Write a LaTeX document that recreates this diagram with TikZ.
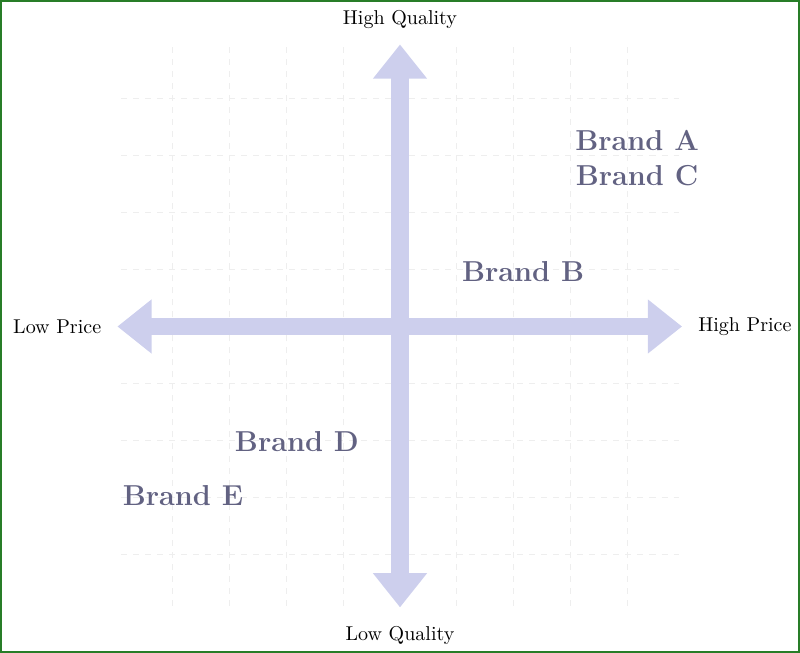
\documentclass[tikz,border=0pt]{standalone}
\usepackage{amssymb}
\usepackage{amsmath}
\usepackage{xcolor}
\usepackage{tikz}
\usetikzlibrary{arrows.meta}
\usetikzlibrary{positioning}
\definecolor{axisblue}{RGB}{205,207,237}
\definecolor{brandgray}{RGB}{98,98,130}
\definecolor{gridgray}{RGB}{238,238,238}
\definecolor{framegreen}{RGB}{40,125,40}
\tikzstyle{axisarrow} = [line width=0.3cm, draw=axisblue, -{Triangle[width=0.91cm, length=0.6cm]}]
\tikzstyle{axisLabel} = [text=black, font=\normalsize]
\tikzstyle{brandNode} = [
                text=brandgray,
                font=\Large\bfseries,
                inner sep=0.05cm
            ]
\tikzstyle{gridline} = [draw=gridgray, dashed, line width=0.5pt]

\begin{document}
\begin{tikzpicture}[node distance=0.16 cm]
    \useasboundingbox (-7.02,-5.73) rectangle (7.02,5.73);
    \draw [framegreen, line width=1pt] (-7.0,-5.71) rectangle (7.0,5.71);
    \draw [gridline] (-4.9,-4.9) grid (4.9,4.9);
    \coordinate (o) at (0,0);
    \coordinate (hqTip) at (0,4.95);
    \coordinate (lqTip) at (0,-4.93);
    \coordinate (lpTip) at (-4.96,0);
    \coordinate (hpTip) at (4.95,0);
    \draw [axisarrow] (o) -- (hqTip);
    \draw [axisarrow] (o) -- (lqTip);
    \draw [axisarrow] (o) -- (lpTip);
    \draw [axisarrow] (o) -- (hpTip);
    \node (hq) [axisLabel, above = of hqTip] {High Quality};
    \node (lq) [axisLabel, below = 0.2cm of lqTip] {Low Quality};
    \node (lp) [axisLabel, left = of lpTip] {Low Price};
    \node (hp) [axisLabel, right = of hpTip] {High Price};
    \node (A) [brandNode] at (4.16,3.27) {Brand A};
    \node (C) [brandNode] at (4.16,2.65) {Brand C};
    \node (B) [brandNode] at (2.16,0.97) {Brand B};
    \node (D) [brandNode] at (-1.81,-2.02) {Brand D};
    \node (E) [brandNode] at (-3.81,-2.96) {Brand E};
\end{tikzpicture}
\end{document}
